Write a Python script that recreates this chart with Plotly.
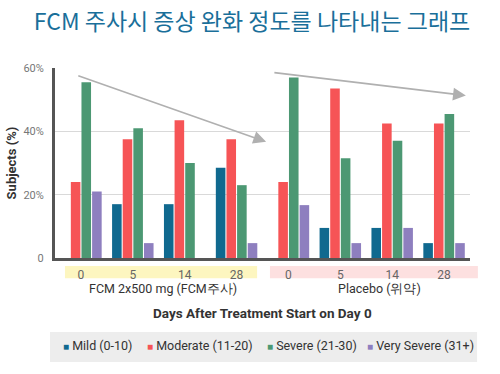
import plotly.graph_objects as go

title = "FCM 주사시 증상 완화 정도를 나타내는 그래프"
days = ["0", "5", "14", "28"]
groups = ["FCM 2x500 mg (FCM주사)", "Placebo (위약)"]
x_idx = list(range(8))
tick_labels = days + days

series_names = ["Mild (0-10)", "Moderate (11-20)", "Severe (21-30)", "Very Severe (31+)"]
mild = [0, 17, 17, 28.5, 0, 9.5, 9.5, 4.7]
moderate = [24, 37.5, 43.5, 37.5, 24, 53.5, 42.5, 42.5]
severe = [55.5, 41, 30, 23, 57, 31.5, 37, 45.5]
very_severe = [21, 4.7, 0, 4.7, 16.7, 4.7, 9.5, 4.7]
colors = ["#10698f", "#f65456", "#4c9873", "#8e7fbf"]

FONT = "Roboto, Liberation Sans, sans-serif"

fig = go.Figure()
for name, vals, c in zip(series_names, [mild, moderate, severe, very_severe], colors):
    fig.add_bar(x=x_idx, y=vals, name=name, marker_color=c, marker_line_width=0, showlegend=False)

fig.update_layout(
    width=500, height=374,
    margin=dict(l=55, r=30, t=68, b=116, autoexpand=False),
    paper_bgcolor="white", plot_bgcolor="white",
    barmode="group", bargap=0.18, bargroupgap=0.1,
    font=dict(family=FONT, color="#333"),
    title=dict(text=title, x=0.504, xref="container", xanchor="center", y=0.94, yanchor="middle",
               font=dict(family="Noto Sans CJK KR, Noto Sans, sans-serif", size=23, color="#1a6f9a")),
    showlegend=False,
)

fig.update_yaxes(range=[0, 60], tickvals=[0, 20, 40, 60], ticktext=["0", "20%", "40%", "60%"],
                 showgrid=True, gridcolor="#d9d9d9", gridwidth=1, automargin=False,
                 showline=True, linecolor="#555", linewidth=3, zeroline=False,
                 tickfont=dict(family=FONT, size=11, color="#777"), ticks="", ticklabelstandoff=6,
                 title=dict(text="<b>Subjects (%)</b>", font=dict(family=FONT, size=13, color="#333"), standoff=4))
fig.update_xaxes(range=[-0.5, 7.5], tickvals=x_idx, ticktext=tick_labels, automargin=False,
                 showline=True, linecolor="#555", linewidth=3, showgrid=False, zeroline=False,
                 ticks="outside", ticklen=4, tickcolor="rgba(0,0,0,0)",
                 tickfont=dict(family=FONT, size=12, color="#666"))

# bands behind tick labels
fig.add_shape(type="rect", xref="paper", yref="paper", x0=0.024, x1=0.487, y0=-0.042, y1=-0.107,
              fillcolor="#fdf6c0", line_width=0, layer="below")
fig.add_shape(type="rect", xref="paper", yref="paper", x0=0.518, x1=1.019, y0=-0.042, y1=-0.107,
              fillcolor="#fde0e0", line_width=0, layer="below")
# legend box
fig.add_shape(type="rect", xref="paper", yref="paper", x0=-0.012, x1=1.017, y0=-0.39, y1=-0.548,
              fillcolor="#ededed", line_width=0, layer="below")

fig.add_annotation(text=groups[0], xref="paper", yref="paper", x=0.26, y=-0.16,
                   xanchor="center", yanchor="middle",
                   showarrow=False, font=dict(family=FONT, size=12.5, color="#333"))
fig.add_annotation(text=groups[1], xref="paper", yref="paper", x=0.782, y=-0.16,
                   xanchor="center", yanchor="middle",
                   showarrow=False, font=dict(family=FONT, size=12.5, color="#333"))
fig.add_annotation(text="<b>Days After Treatment Start on Day 0</b>", xref="paper", yref="paper",
                   x=0.499, y=-0.29, xanchor="center", yanchor="middle", showarrow=False,
                   font=dict(family=FONT, size=13.5, color="#333"))

# legend entries
legend_x = [0.014, 0.216, 0.505, 0.748]
for name, c, lx in zip(series_names, colors, legend_x):
    fig.add_annotation(
        text=f'<span style="color:{c};font-size:10px">■</span> {name}',
        xref="paper", yref="paper", x=lx, y=-0.463, xanchor="left", yanchor="middle",
        showarrow=False, font=dict(family=FONT, size=12.5, color="#333"))

# trend arrows
for (x0, y0, x1, y1) in [(-0.08, 57.7, 3.57, 36.7), (3.70, 58.6, 7.42, 51.3)]:
    fig.add_annotation(x=x1, y=y1, ax=x0, ay=y0, xref="x", yref="y", axref="x", ayref="y",
                       text="", showarrow=True, arrowhead=2, arrowsize=1.6, arrowwidth=1.6,
                       arrowcolor="#b0b0b0")

fig.write_html("out.html", config={"displayModeBar": False},
               post_script="document.body.style.margin='0';document.body.style.overflow='hidden';")
